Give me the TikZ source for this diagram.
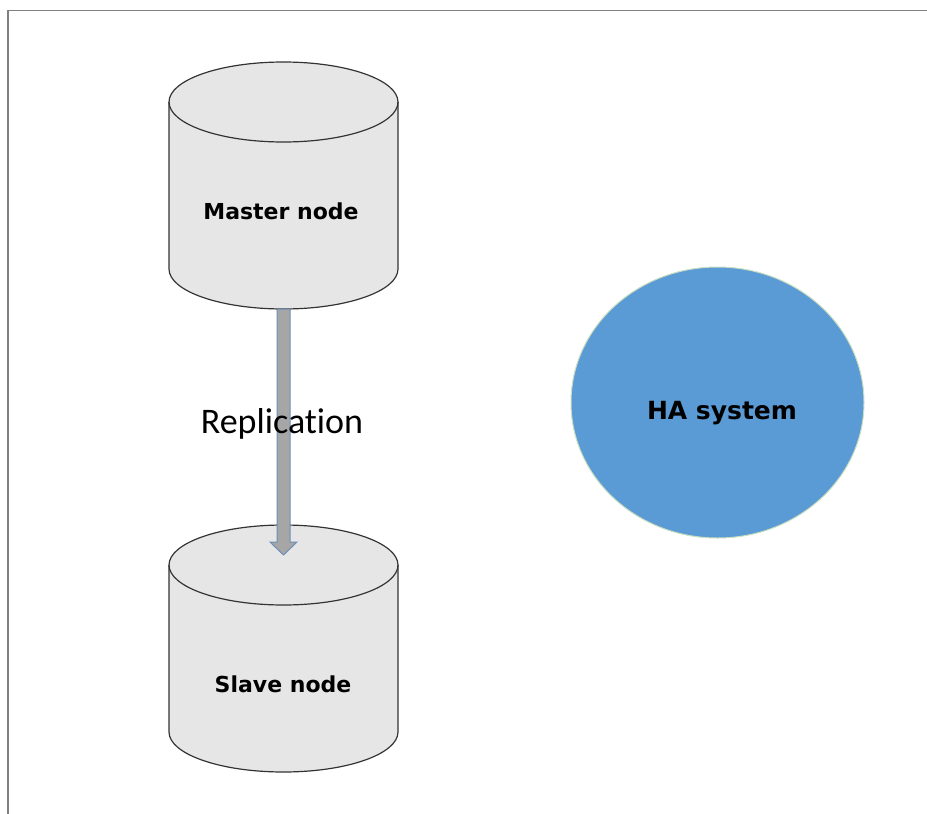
\documentclass[tikz,border=0pt]{standalone}
\usepackage{fontspec}
\setmainfont{DejaVu Sans}
\newfontfamily\calibri[Ligatures=CommonOff]{Carlito}
\usetikzlibrary{calc,shapes.geometric}

\definecolor{dbgray}{HTML}{E6E6E6}
\definecolor{haBlue}{HTML}{5B9BD5}
\definecolor{haEdge}{HTML}{C9DEC0}
\definecolor{replFill}{HTML}{A6A6A6}
\definecolor{replEdge}{HTML}{6D8FBA}

% cylinder: centre x, top ellipse y, bottom ellipse y
\newcommand{\dbcylinder}[3]{
  \filldraw[dbbody] ({#1-114.5},#2) -- ({#1-114.5},#3)
    arc[start angle=180,end angle=360,x radius=114.5,y radius=40]
    -- ({#1+114.5},#2)
    arc[start angle=0,end angle=180,x radius=114.5,y radius=40] -- cycle;
  \draw[dbbody,fill=none] ({#1-114.5},#2)
    arc[start angle=180,end angle=360,x radius=114.5,y radius=40];
}

\tikzset{
  dbbody/.style={fill=dbgray,draw=black!80,line width=1.2},
  dblabel/.style={font=\bfseries\fontsize{22}{22}\selectfont},
  repl/.style={fill=replFill,draw=replEdge,line width=1},
  frame/.style={draw=black!50,line width=1.6}
}

\begin{document}
\begin{tikzpicture}[x=1pt,y=1pt]
\useasboundingbox (0,0) rectangle (927,-814);
\draw[frame] (8,-814) -- (8,-10.5) -- (927,-10.5);

\dbcylinder{283.5}{-102}{-269}
\dbcylinder{283.5}{-565}{-732}

\node[dblabel] (master) at (281,-211) {Master node};
\node[dblabel] (slave) at (283,-684) {Slave node};
\coordinate (mbot) at (283.5,-309);
\coordinate (stip) at (283.5,-555);

% replication arrow
\filldraw[repl] ($(mbot)+(-6.5,0)$) -- ($(stip)+(-6.5,13)$) -- ($(stip)+(-13.5,13)$)
  -- (stip) -- ($(stip)+(13.5,13)$) -- ($(stip)+(6.5,13)$) -- ($(mbot)+(6.5,0)$) -- cycle;
\node[font=\calibri\fontsize{36}{36}\selectfont] (repl) at (282,-424) {Replication};

\node[ellipse,fill=haBlue,draw=haEdge,line width=1,minimum width=293,minimum height=271,
  inner sep=0] (ha) at (717.5,-402.5) {};
\node[dblabel,font=\bfseries\fontsize{25}{25}\selectfont] (halabel) at (722,-413) {HA system};
\end{tikzpicture}
\end{document}
